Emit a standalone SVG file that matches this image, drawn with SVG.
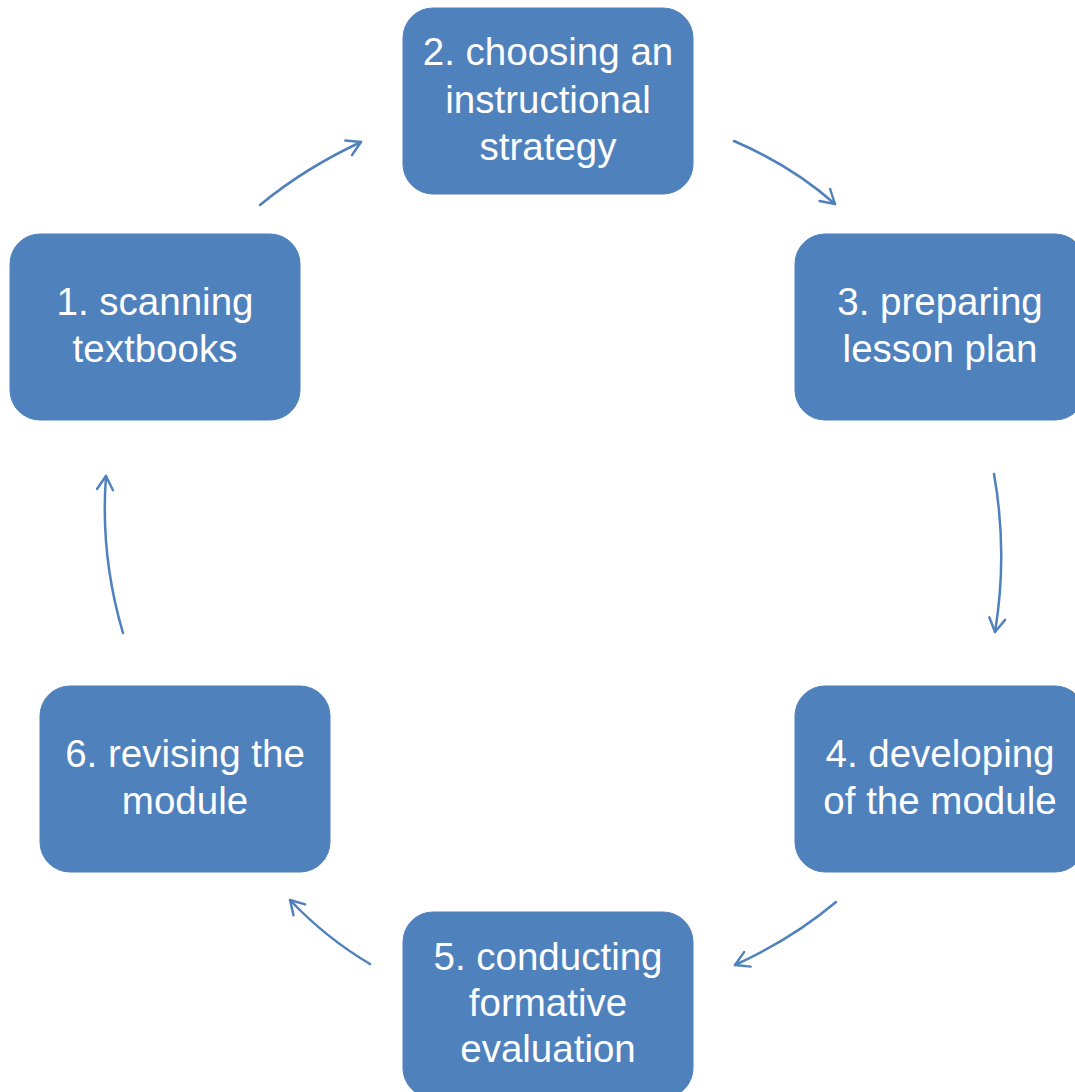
<svg xmlns="http://www.w3.org/2000/svg" width="1075" height="1092" viewBox="0 0 1075 1092">
<style>
.box{fill:#4F81BD;stroke:#4F81BD}
.t{font-family:"Liberation Sans",Arial,sans-serif;font-size:38.5px;fill:#FFFFFF;text-anchor:middle}
.c{fill:none;stroke:#4F81BD;stroke-width:2.5;stroke-linecap:round}
</style>
<defs>
<marker id="ah" viewBox="0 0 20 20" refX="17" refY="10" markerWidth="16" markerHeight="16" markerUnits="userSpaceOnUse" orient="auto" overflow="visible">
<path d="M0,0 L17,10 L0,20" fill="none" stroke="#4F81BD" stroke-width="3" stroke-linecap="round" stroke-linejoin="round"/>
</marker>
</defs>
<rect width="1075" height="1092" fill="#FFFFFF"/>
<g id="connectors">
<path class="c" d="M260,205 Q305,168 361,142" marker-end="url(#ah)"/>
<path class="c" d="M734,141 Q792,166 835,204" marker-end="url(#ah)"/>
<path class="c" d="M994,474 Q1008,553 995,632" marker-end="url(#ah)"/>
<path class="c" d="M836,902 Q792,939 735,965" marker-end="url(#ah)"/>
<path class="c" d="M370,964 Q326,938 290,900" marker-end="url(#ah)"/>
<path class="c" d="M123,633 Q100,555 106,476" marker-end="url(#ah)"/>
</g>
<g id="node1">
<rect class="box" x="10" y="234" width="290" height="186" rx="30"/>
<text class="t" x="155" y="315">1. scanning</text>
<text class="t" x="155" y="362">textbooks</text>
</g>
<g id="node2">
<rect class="box" x="403" y="8" width="290" height="186" rx="30"/>
<text class="t" x="548" y="65">2. choosing an</text>
<text class="t" x="548" y="113">instructional</text>
<text class="t" x="548" y="160">strategy</text>
</g>
<g id="node3">
<rect class="box" x="795" y="234" width="290" height="186" rx="30"/>
<text class="t" x="940" y="315">3. preparing</text>
<text class="t" x="940" y="362">lesson plan</text>
</g>
<g id="node4">
<rect class="box" x="795" y="686" width="290" height="186" rx="30"/>
<text class="t" x="940" y="767">4. developing</text>
<text class="t" x="940" y="814">of the module</text>
</g>
<g id="node5">
<rect class="box" x="403" y="912" width="290" height="186" rx="30"/>
<text class="t" x="548" y="970">5. conducting</text>
<text class="t" x="548" y="1016">formative</text>
<text class="t" x="548" y="1062">evaluation</text>
</g>
<g id="node6">
<rect class="box" x="40" y="686" width="290" height="186" rx="30"/>
<text class="t" x="185" y="767">6. revising the</text>
<text class="t" x="185" y="814">module</text>
</g>
</svg>
